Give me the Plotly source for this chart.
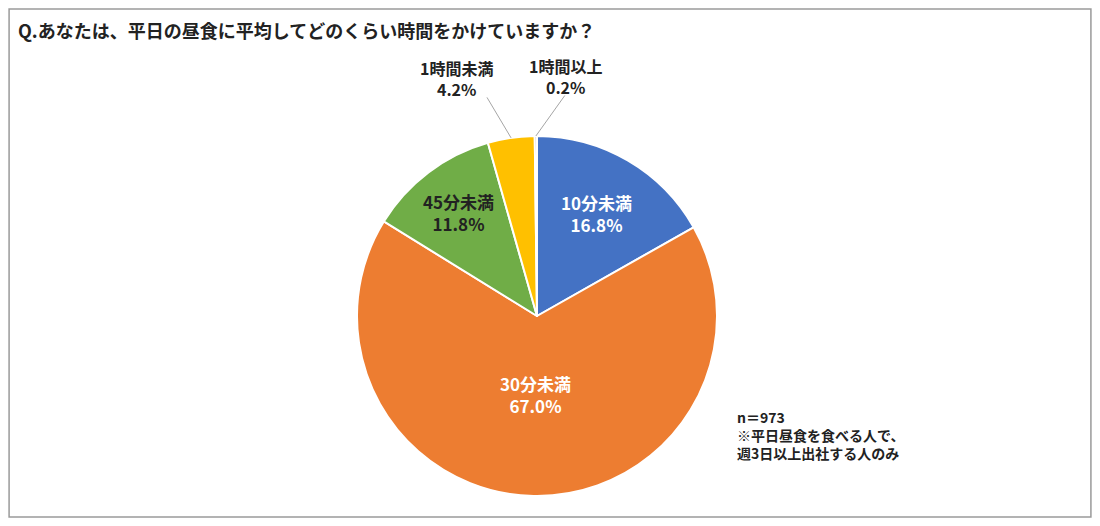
import math
import plotly.graph_objects as go

categories = ["10分未満", "30分未満", "45分未満", "1時間未満", "1時間以上"]
values = [16.8, 67.0, 11.8, 4.2, 0.2]
colors = ["#4472C4", "#ED7D31", "#70AD47", "#FFC000", "#A5A5A5"]
text_colors = ["white", "white", "#222222", "#222222", "#222222"]

OFF = 8  # page body margin
W, H = 1100 - 2 * OFF, 526 - 2 * OFF
cx, cy, R = 537 - OFF, 316 - OFF, 180
FONT = "Noto Sans CJK JP"

def px(x):
    return (x - OFF) / W

def py(y):
    return 1 - (y - OFF) / H

fig = go.Figure(go.Pie(
    labels=categories, values=values, sort=False, direction="clockwise",
    rotation=0, marker=dict(colors=colors, line=dict(color="white", width=2)),
    textinfo="none", hoverinfo="label+percent", showlegend=False,
    domain=dict(x=[(cx - R) / W, (cx + R) / W], y=[(H - cy - R) / H, (H - cy + R) / H]),
))

ann = []
total = sum(values)
cum = 0
rfrac = [0.66, 0.58, 0.72]
CX, CY = cx + OFF, cy + OFF
for i, (c, v) in enumerate(zip(categories, values)):
    mid = (cum + v / 2) / total * 2 * math.pi
    cum += v
    txt = f"<b>{c}<br>{v:.1f}%</b>"
    if i < 3:
        r = R * rfrac[i]
        x, y = CX + r * math.sin(mid), CY - r * math.cos(mid)
        ann.append(dict(x=px(x), y=py(y), xref="paper", yref="paper", text=txt,
                        showarrow=False, font=dict(size=17, color=text_colors[i], family=FONT)))
    else:
        ex, ey = CX + R * math.sin(mid), CY - R * math.cos(mid)
        lx = ex - 25 if i == 3 else ex + 30
        ann.append(dict(x=px(ex), y=py(ey), xref="paper", yref="paper", text="",
                        showarrow=True, arrowhead=0, arrowcolor="#A5A5A5", arrowwidth=1,
                        ax=lx - ex, ay=-42))
        ann.append(dict(x=px(lx + (-30 if i == 3 else 0)), y=py(ey - 35),
                        xref="paper", yref="paper", text=txt, showarrow=False,
                        xanchor="center", yanchor="bottom",
                        font=dict(size=16, color="#222222", family=FONT)))

ann.append(dict(x=px(16), y=py(30), xref="paper", yref="paper", xanchor="left", yanchor="middle",
                text="<b>Q.あなたは、平日の昼食に平均してどのくらい時間をかけていますか？</b>",
                showarrow=False, font=dict(size=18, color="#222222", family=FONT)))
ann.append(dict(x=px(735), y=py(435), xref="paper", yref="paper", xanchor="left", yanchor="middle",
                align="left",
                text="<b>n＝973<br>※平日昼食を食べる人で、<br>週3日以上出社する人のみ</b>",
                showarrow=False, font=dict(size=14, color="#222222", family=FONT)))

fig.update_layout(
    width=W, height=H, margin=dict(l=0, r=0, t=0, b=0),
    paper_bgcolor="white", plot_bgcolor="white", annotations=ann,
    shapes=[dict(type="rect", xref="paper", yref="paper", x0=0.001, y0=0.002, x1=0.999, y1=0.998,
                 line=dict(color="#9a9a9a", width=1.5))],
)
fig.write_html("out.html")
